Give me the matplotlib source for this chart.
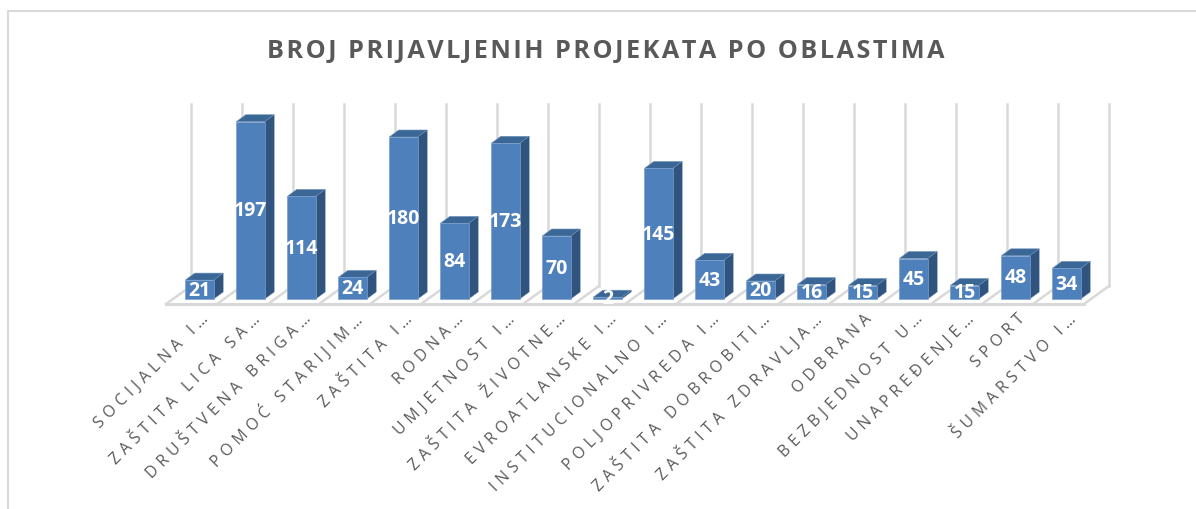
import numpy as np
import matplotlib.pyplot as plt
from matplotlib.patches import Polygon
from matplotlib.transforms import ScaledTranslation

HS = '\u200a'  # hair space, for the letter spacing of the original

categories = ['SOCIJALNA I…', 'ZAŠTITA LICA SA…', 'DRUŠTVENA BRIGA…', 'POMOĆ STARIJIM…',
              'ZAŠTITA I…', 'RODNA…', 'UMJETNOST I…', 'ZAŠTITA ŽIVOTNE…',
              'EVROATLANSKE I…', 'INSTITUCIONALNO I…', 'POLJOPRIVREDA I…', 'ZAŠTITA DOBROBITI…',
              'ZAŠTITA ZDRAVLJA…', 'ODBRANA', 'BEZBJEDNOST U…', 'UNAPREĐENJE…',
              'SPORT', 'ŠUMARSTVO I…']
values = [21, 197, 114, 24, 180, 84, 173, 70, 2, 145, 43, 20, 16, 15, 45, 15, 48, 34]
title = 'BROJ PRIJAVLJENIH PROJEKATA PO OBLASTIMA'


def spaced(s, n=2):
    return (HS * n).join(s)


plt.rcParams['font.family'] = ['Open Sans', 'DejaVu Sans']

W, H = 1196, 510
fig = plt.figure(figsize=(W / 100, H / 100), dpi=100, facecolor='white')

# frame of the pasted chart, runs off the right and bottom edge
fig.add_artist(plt.Line2D([8 / W, 8 / W, 1], [0, 1 - 12 / H, 1 - 12 / H], color='#D9D9D9', lw=1.5))

# axes box = floor front edge up to top of the gridlines
px_unit = 0.9   # pixels per project
step = 51.0     # pixels between categories
x0 = 199.5      # pixel of the first bar centre
y0 = 300.0      # pixel of the zero line
ax_left, ax_right, ax_top, ax_bottom = 166, 1110, 105, 305
ax = fig.add_axes([ax_left / W, 1 - ax_bottom / H, (ax_right - ax_left) / W, (ax_bottom - ax_top) / H])
ax.set_xlim((ax_left - x0) / step, (ax_right - x0) / step)
ax.set_ylim((y0 - ax_bottom) / px_unit, (y0 - ax_top) / px_unit)
for s in ax.spines.values():
    s.set_visible(False)
ax.set_yticks([])

x = np.arange(len(values))
bar_w = 28.5 / step
dx = 9.5 / step        # depth of a bar
dy = 7 / px_unit
floor_y = ax.get_ylim()[0]
back_y = (y0 - 287) / px_unit
grid_col = '#D9D9D9'

# back walls and floor
xx = np.arange(len(values) + 1)
for k in xx:
    back_x = (191 - x0) / step + k
    front_x = (166 - x0) / step + k
    ax.plot([back_x, back_x], [back_y, ax.get_ylim()[1]], color=grid_col, lw=1.8, zorder=1, clip_on=False)
    ax.plot([front_x, back_x], [floor_y, back_y], color=grid_col, lw=1.8, zorder=1, clip_on=False)
ax.plot([(166 - x0) / step, (166 - x0) / step + len(values)], [floor_y, floor_y], color=grid_col, lw=2.2, zorder=1,
        clip_on=False)

# bars: front face from ax.bar, top and side as polygons
ax.bar(x, values, width=bar_w, color='#4E80BC', edgecolor='#7C9FCC', linewidth=0.5, zorder=3)
for xi, v in zip(x, values):
    l, r = xi - bar_w / 2, xi + bar_w / 2
    ax.add_patch(Polygon([(l, v), (r, v), (r + dx, v + dy), (l + dx, v + dy)], fc='#3B6797', ec='#6F93BD', lw=0.4,
                         zorder=2))
    ax.add_patch(Polygon([(r, 0), (r + dx, dy), (r + dx, v + dy), (r, v)], fc='#31547E', ec='#6F93BD', lw=0.3,
                         zorder=2))
    ax.text(xi, v / 2, str(v), color='white', ha='center', va='center', fontsize=14, fontweight='bold', zorder=4)

# category labels
ax.set_xticks(x)
ax.set_xticklabels([spaced(c, 3) for c in categories], rotation=45, ha='right', va='center',
                   rotation_mode='anchor', fontsize=11.4, color='#595959')
ax.tick_params(axis='x', length=0, pad=0)
shift = ScaledTranslation(7 / 100, -12 / 100, fig.dpi_scale_trans)
for lab in ax.get_xticklabels():
    lab.set_transform(lab.get_transform() + shift)

fig.text(606 / W, 1 - 51 / H, spaced(title, 1), ha='center', va='center', fontsize=18.2, fontweight='bold',
         color='#595959')

fig.savefig('out.png', dpi=100)
